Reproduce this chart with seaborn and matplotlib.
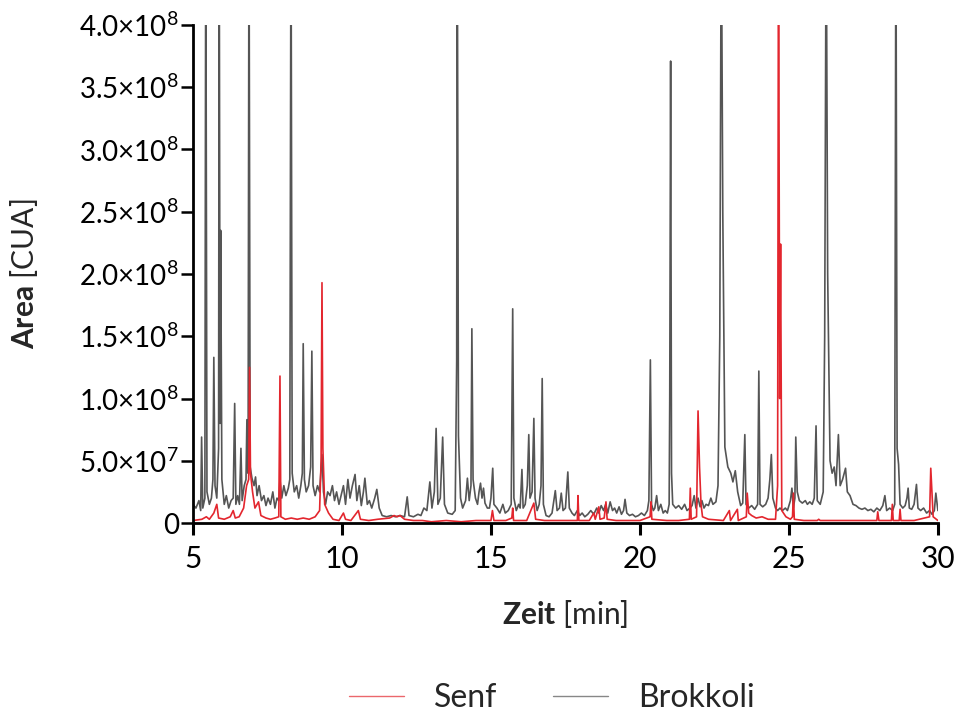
import numpy as np
import pandas as pd
import matplotlib
matplotlib.use("Agg")
import matplotlib.pyplot as plt
import seaborn as sns

# ---------------- data (values in units of 1e8 CUA) ----------------
brokkoli_t = [
    5.00, 5.10, 5.20, 5.26, 5.29, 5.33, 5.40, 5.43, 5.47, 5.55, 5.62, 5.67, 5.70, 5.74, 5.80, 5.86,
    5.88, 5.91, 5.93, 5.97, 6.05, 6.12, 6.20, 6.28, 6.35, 6.40, 6.44, 6.50, 6.56, 6.61, 6.65, 6.72,
    6.78, 6.81, 6.85, 6.88, 6.92, 6.98, 7.05, 7.10, 7.15, 7.22, 7.30, 7.38, 7.45, 7.52, 7.60, 7.68,
    7.75, 7.82, 7.88, 7.92, 7.98, 8.05, 8.12, 8.20, 8.25, 8.29, 8.33, 8.40, 8.48, 8.55, 8.62, 8.67,
    8.70, 8.74, 8.80, 8.88, 8.95, 8.99, 9.03, 9.10, 9.18, 9.25, 9.33, 9.38, 9.45, 9.52, 9.60, 9.68,
    9.75, 9.82, 9.90, 9.97, 10.05, 10.12, 10.20, 10.27, 10.35, 10.44, 10.50, 10.58, 10.65, 10.72,
    10.77, 10.85, 10.92, 11.00, 11.10, 11.17, 11.25, 11.35, 11.50, 11.65, 11.80, 11.95, 12.10, 12.19,
    12.25, 12.40, 12.55, 12.65, 12.75, 12.85, 12.95, 13.02, 13.10, 13.16, 13.22, 13.30, 13.38, 13.44,
    13.55, 13.70, 13.80, 13.85, 13.87, 13.91, 13.98, 14.05, 14.15, 14.21, 14.27, 14.33, 14.36, 14.40,
    14.48, 14.55, 14.60, 14.65, 14.70, 14.75, 14.80, 14.88, 14.95, 15.00, 15.06, 15.10, 15.20, 15.30,
    15.40, 15.48, 15.58, 15.68, 15.73, 15.77, 15.85, 15.93, 15.98, 16.04, 16.08, 16.15, 16.22, 16.27,
    16.31, 16.38, 16.44, 16.48, 16.55, 16.62, 16.68, 16.72, 16.76, 16.85, 16.95, 17.05, 17.16, 17.22,
    17.30, 17.36, 17.42, 17.50, 17.58, 17.63, 17.72, 17.80, 17.90, 17.98, 18.06, 18.15, 18.25, 18.35,
    18.45, 18.55, 18.62, 18.70, 18.78, 18.85, 18.92, 19.00, 19.08, 19.15, 19.22, 19.30, 19.38, 19.45,
    19.50, 19.56, 19.65, 19.75, 19.85, 19.95, 20.05, 20.15, 20.25, 20.30, 20.35, 20.39, 20.45, 20.50,
    20.56, 20.62, 20.70, 20.78, 20.85, 20.92, 20.98, 21.00, 21.03, 21.06, 21.10, 21.20, 21.30, 21.40,
    21.50, 21.58, 21.68, 21.75, 21.82, 21.88, 21.95, 22.02, 22.08, 22.15, 22.22, 22.30, 22.38, 22.45,
    22.55, 22.62, 22.68, 22.73, 22.78, 22.85, 22.95, 23.05, 23.12, 23.20, 23.28, 23.38, 23.45, 23.52,
    23.56, 23.65, 23.75, 23.85, 23.95, 23.99, 24.03, 24.12, 24.22, 24.30, 24.36, 24.41, 24.46, 24.55,
    24.62, 24.70, 24.78, 24.88, 24.95, 25.05, 25.10, 25.15, 25.20, 25.23, 25.28, 25.35, 25.45, 25.55,
    25.62, 25.70, 25.78, 25.85, 25.91, 25.95, 26.05, 26.15, 26.20, 26.25, 26.30, 26.38, 26.45, 26.52,
    26.58, 26.66, 26.72, 26.80, 26.90, 26.96, 27.05, 27.15, 27.25, 27.35, 27.45, 27.55, 27.65, 27.75,
    27.85, 27.95, 28.05, 28.15, 28.22, 28.28, 28.38, 28.48, 28.55, 28.59, 28.63, 28.68, 28.73, 28.82,
    28.90, 28.96, 29.00, 29.04, 29.12, 29.20, 29.28, 29.33, 29.42, 29.52, 29.62, 29.72, 29.80, 29.88,
    29.93, 30.00,
]
brokkoli_v = [
    0.15, 0.12, 0.18, 0.10, 0.69, 0.12, 0.20, 5.00, 0.25, 0.15, 0.20, 0.35, 1.33, 0.30, 0.20, 0.60,
    5.00, 0.80, 2.35, 0.35, 0.15, 0.22, 0.12, 0.18, 0.20, 0.96, 0.15, 0.22, 0.15, 0.60, 0.18, 0.30,
    0.35, 0.83, 0.40, 5.00, 0.45, 0.36, 0.30, 0.37, 0.22, 0.30, 0.18, 0.22, 0.14, 0.20, 0.15, 0.25,
    0.12, 0.20, 0.18, 0.35, 0.20, 0.30, 0.22, 0.28, 0.35, 5.00, 0.40, 0.25, 0.30, 0.20, 0.30, 0.40,
    1.44, 0.35, 0.25, 0.30, 0.45, 1.38, 0.30, 0.22, 0.30, 0.25, 0.55, 0.25, 0.15, 0.25, 0.22, 0.30,
    0.18, 0.25, 0.15, 0.22, 0.30, 0.15, 0.35, 0.20, 0.30, 0.39, 0.18, 0.30, 0.14, 0.25,
    0.36, 0.15, 0.18, 0.12, 0.20, 0.27, 0.12, 0.06, 0.05, 0.06, 0.05, 0.06, 0.05, 0.21,
    0.06, 0.05, 0.07, 0.06, 0.12, 0.10, 0.33, 0.12, 0.25, 0.76, 0.15, 0.20, 0.69, 0.15,
    0.08, 0.07, 0.10, 1.30, 5.00, 0.70, 0.20, 0.12, 0.18, 0.36, 0.18, 0.30, 1.56, 0.35,
    0.20, 0.15, 0.25, 0.32, 0.20, 0.28, 0.16, 0.12, 0.12, 0.20, 0.44, 0.15, 0.12, 0.08,
    0.15, 0.08, 0.10, 0.15, 1.72, 0.20, 0.10, 0.15, 0.12, 0.43, 0.12, 0.15, 0.30, 0.71,
    0.20, 0.25, 0.84, 0.20, 0.10, 0.15, 0.30, 1.16, 0.15, 0.06, 0.05, 0.08, 0.26, 0.10,
    0.12, 0.24, 0.10, 0.12, 0.41, 0.12, 0.08, 0.06, 0.10, 0.06, 0.08, 0.05, 0.07, 0.10,
    0.07, 0.12, 0.08, 0.14, 0.10, 0.15, 0.08, 0.17, 0.10, 0.12, 0.08, 0.13, 0.07, 0.10,
    0.19, 0.08, 0.06, 0.07, 0.05, 0.06, 0.08, 0.06, 0.10, 0.18, 1.31, 0.15, 0.10, 0.12,
    0.22, 0.10, 0.15, 0.08, 0.10, 0.08, 0.15, 1.00, 3.71, 0.40, 0.15, 0.12, 0.14, 0.11,
    0.15, 0.10, 0.12, 0.14, 0.22, 0.12, 0.20, 0.13, 0.18, 0.12, 0.15, 0.14, 0.20, 0.15,
    0.17, 0.30, 1.50, 5.00, 2.50, 0.61, 0.45, 0.40, 0.33, 0.42, 0.25, 0.14, 0.16, 0.71,
    0.15, 0.12, 0.14, 0.11, 0.15, 1.22, 0.15, 0.13, 0.15, 0.20, 0.35, 0.55, 0.20, 0.12,
    0.10, 0.12, 0.10, 0.12, 0.10, 0.18, 0.28, 0.12, 0.20, 0.69, 0.25, 0.18, 0.16, 0.18,
    0.15, 0.17, 0.15, 0.20, 0.78, 0.18, 0.15, 0.25, 1.50, 5.00, 2.00, 0.50, 0.40, 0.45,
    0.30, 0.71, 0.30, 0.35, 0.44, 0.25, 0.22, 0.15, 0.14, 0.12, 0.11, 0.12, 0.10, 0.11,
    0.09, 0.12, 0.10, 0.14, 0.22, 0.10, 0.12, 0.10, 0.15, 5.00, 0.60, 0.47, 0.15, 0.12,
    0.14, 0.20, 0.28, 0.12, 0.11, 0.15, 0.31, 0.12, 0.10, 0.12, 0.08, 0.10, 0.07, 0.10,
    0.24, 0.10,
]

senf_t = [
    5.00, 5.30, 5.45, 5.55, 5.70, 5.80, 5.86, 6.05, 6.25, 6.35, 6.42, 6.55, 6.70, 6.80, 6.87, 6.90,
    6.93, 7.00, 7.08, 7.20, 7.28, 7.45, 7.60, 7.75, 7.88, 7.92, 7.95, 8.10, 8.30, 8.50, 8.70, 8.90,
    9.10, 9.25, 9.30, 9.33, 9.36, 9.42, 9.55, 9.70, 9.90, 10.05, 10.12, 10.30, 10.55, 10.62, 10.90,
    11.20, 11.60, 11.75, 11.85, 11.95, 12.10, 12.40, 12.70, 13.00, 13.50, 14.00, 14.50, 15.00, 15.05,
    15.10, 15.50, 15.70, 15.73, 15.76, 16.20, 16.44, 16.50, 16.80, 17.20, 17.90, 17.92, 17.95, 18.30,
    18.45, 18.50, 18.62, 18.66, 18.80, 18.86, 18.90, 19.20, 19.60, 20.00, 20.34, 20.37, 20.40, 20.90,
    21.30, 21.66, 21.69, 21.72, 21.90, 21.95, 22.00, 22.05, 22.10, 22.30, 22.80, 23.00, 23.04, 23.27,
    23.30, 23.57, 23.60, 23.65, 23.75, 23.90, 24.10, 24.30, 24.55, 24.62, 24.65, 24.69, 24.72, 24.76,
    24.90, 25.05, 25.12, 25.15, 25.18, 25.50, 25.95, 26.00, 26.05, 26.50, 27.00, 27.50, 27.95, 27.98,
    28.02, 28.44, 28.47, 28.50, 28.70, 28.73, 28.76, 29.20, 29.72, 29.76, 29.80, 29.84, 30.00,
]
senf_v = [
    0.02, 0.03, 0.05, 0.03, 0.08, 0.15, 0.04, 0.03, 0.05, 0.10, 0.04, 0.05, 0.12, 0.30, 0.35, 1.25,
    0.40, 0.25, 0.12, 0.17, 0.06, 0.04, 0.03, 0.04, 0.05, 1.18, 0.05, 0.03, 0.04, 0.03, 0.04, 0.03,
    0.05, 0.10, 0.50, 1.93, 0.60, 0.15, 0.08, 0.03, 0.02, 0.08, 0.03, 0.02, 0.10, 0.03, 0.02,
    0.03, 0.04, 0.06, 0.05, 0.06, 0.03, 0.02, 0.02, 0.01, 0.02, 0.01, 0.02, 0.02, 0.10,
    0.02, 0.02, 0.04, 0.12, 0.02, 0.02, 0.16, 0.03, 0.02, 0.02, 0.02, 0.22, 0.02, 0.02,
    0.08, 0.03, 0.13, 0.03, 0.04, 0.17, 0.03, 0.02, 0.02, 0.02, 0.05, 0.17, 0.03, 0.02,
    0.02, 0.03, 0.28, 0.03, 0.05, 0.90, 0.45, 0.15, 0.05, 0.03, 0.02, 0.10, 0.02, 0.11,
    0.02, 0.05, 0.24, 0.08, 0.06, 0.04, 0.05, 0.03, 0.03, 0.30, 5.00, 1.00, 2.24, 0.10,
    0.05, 0.03, 0.05, 0.24, 0.03, 0.02, 0.02, 0.03, 0.02, 0.02, 0.02, 0.02, 0.02, 0.09,
    0.02, 0.02, 0.15, 0.02, 0.02, 0.11, 0.02, 0.02, 0.05, 0.44, 0.25, 0.05, 0.02,
]

series_names = ["Senf", "Brokkoli"]
series_colors = {"Senf": "#e3262e", "Brokkoli": "#555555"}
y_ticks = [0, 0.5e8, 1.0e8, 1.5e8, 2.0e8, 2.5e8, 3.0e8, 3.5e8, 4.0e8]
y_ticklabels = ["0", "5.0×10$^{7}$", "1.0×10$^{8}$", "1.5×10$^{8}$", "2.0×10$^{8}$",
                "2.5×10$^{8}$", "3.0×10$^{8}$", "3.5×10$^{8}$", "4.0×10$^{8}$"]
x_ticks = [5, 10, 15, 20, 25, 30]

# ---------------- build tables ----------------
df_b = pd.DataFrame({"Zeit": brokkoli_t, "Area": np.array(brokkoli_v) * 1e8, "Probe": "Brokkoli"})
df_s = pd.DataFrame({"Zeit": senf_t, "Area": np.array(senf_v) * 1e8, "Probe": "Senf"})

sns.set_theme(style="ticks")
plt.rcParams["font.family"] = ["Lato", "DejaVu Sans"]
plt.rcParams["mathtext.fontset"] = "custom"
plt.rcParams["mathtext.rm"] = "Lato"
plt.rcParams["mathtext.it"] = "Lato:italic"
plt.rcParams["mathtext.bf"] = "Lato:bold"

fig = plt.figure(figsize=(9.6, 7.2), dpi=100)
ax = fig.add_axes([0.201, 0.2736, 0.776, 0.6917])

sns.lineplot(data=df_b, x="Zeit", y="Area", color=series_colors["Brokkoli"], lw=1.2,
             estimator=None, sort=False, ax=ax, label="Brokkoli")
sns.lineplot(data=df_s, x="Zeit", y="Area", color=series_colors["Senf"], lw=1.2,
             estimator=None, sort=False, ax=ax, label="Senf")

ax.set_xlim(5, 30)
ax.set_ylim(0, 4e8)
ax.set_xticks(x_ticks)
ax.set_xticklabels([str(v) for v in x_ticks])
ax.set_yticks(y_ticks)
ax.set_yticklabels(y_ticklabels)

for s in ["top", "right"]:
    ax.spines[s].set_visible(False)
for s in ["left", "bottom"]:
    ax.spines[s].set_linewidth(2.0)
    ax.spines[s].set_color("black")

ax.tick_params(axis="y", length=8.5, width=1.8, pad=1.5, labelsize=20, colors="black")
ax.tick_params(axis="x", length=8.5, width=2.2, pad=7, labelsize=21.5, colors="black")

ax.set_xlabel(r"$\mathbf{Zeit}$ [min]", fontsize=21.5)
ax.set_ylabel(r"$\mathbf{Area}$ [CUA]", fontsize=21.5)
ax.xaxis.set_label_coords(0.5, -0.150)
ax.yaxis.set_label_coords(-0.205, 0.5)

handles, labels = ax.get_legend_handles_labels()
order = [labels.index(n) for n in series_names]
ax.get_legend().remove()
leg = fig.legend([handles[i] for i in order], [labels[i] for i in order],
                 loc="center", bbox_to_anchor=(0.575, 0.03), ncol=2, frameon=False,
                 fontsize=23, handlelength=1.7, handletextpad=0.95, columnspacing=1.75,
                 borderpad=0.2)
for line in leg.get_lines():
    line.set_linewidth(1.0)
    line.set_alpha(0.7)

fig.savefig("out.png", dpi=100)
